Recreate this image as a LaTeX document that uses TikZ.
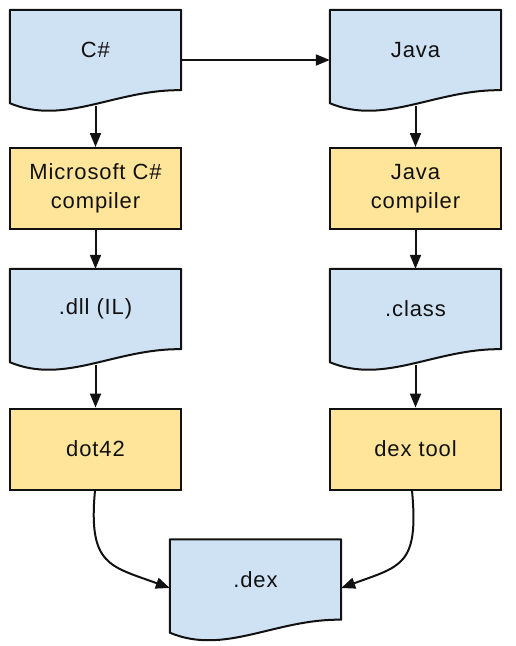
\documentclass[tikz,border=0pt]{standalone}
\usepackage{fontspec}
\setmainfont{Liberation Sans}[LetterSpace=4]
\usetikzlibrary{arrows.meta,calc,backgrounds}
\definecolor{ink}{HTML}{111111}
\definecolor{docblue}{HTML}{CFE2F3}
\definecolor{toolyellow}{HTML}{FFE599}
\tikzset{doc/.style={minimum width=171pt,minimum height=80pt,inner sep=0pt,align=center,
  font=\fontsize{22}{29}\selectfont,text=ink},
docline/.style={draw=ink,line width=2pt,fill=docblue,line join=round},
tool/.style={draw=ink,line width=2pt,fill=toolyellow,minimum width=171pt,minimum height=81pt,
  inner sep=0pt,align=center,font=\fontsize{22}{29}\selectfont,text=ink},
flow/.style={-{Triangle[length=14pt,width=11pt]},line width=2pt,ink}}

\begin{document}
\begin{tikzpicture}[x=1pt,y=-1pt]
\useasboundingbox (0,0) rectangle (515,646);
% left column
\node[doc] (csharp) at (95.5,50) {C\#};
\node[tool] (mscomp) at (95.5,188.5) {Microsoft C\#\\compiler};
\node[doc] (dll) at (95.5,309) {.dll (IL)};
\node[tool] (dottool) at (95.5,449) {dot42};
% right column
\node[doc] (java) at (415.5,50) {Java};
\node[tool] (javacomp) at (415.5,188.5) {Java\\compiler};
\node[doc] (class) at (415.5,309) {.class};
\node[tool] (dextool) at (415.5,449) {dex tool};
\node[doc] (dex) at (255.5,579.5) {.dex};
% document outlines
\begin{scope}[on background layer]
\foreach \n in {csharp,java,dll,class,dex}
  \draw[docline] (\n.north west) -- (\n.north east) -- (\n.south east)
    .. controls ($(\n.south east)+(-66,-1)$) and ($(\n.south west)+(55,36)$)
    .. ($(\n.south west)+(0,13)$) -- cycle;
\end{scope}
% arrows
\draw[flow] ([yshift=-10pt]csharp.east) -- ([yshift=-10pt]java.west);
\draw[flow] ([yshift=-16pt]csharp.south) -- (mscomp);
\draw[flow] (mscomp) -- (dll);
\draw[flow] ([yshift=-16pt]dll.south) -- (dottool);
\draw[flow] ([yshift=-16pt]java.south) -- (javacomp);
\draw[flow] (javacomp) -- (class);
\draw[flow] ([yshift=-16pt]class.south) -- (dextool);
\draw[flow] ([xshift=-0.5pt]dottool.south) .. controls +(-7,75) and +(-60,-22) .. ([yshift=-8.5pt]dex.west);
\draw[flow] ([xshift=-3.5pt]dextool.south) .. controls +(7,75) and +(60,-22) .. ([yshift=-8.5pt]dex.east);
\end{tikzpicture}
\end{document}
